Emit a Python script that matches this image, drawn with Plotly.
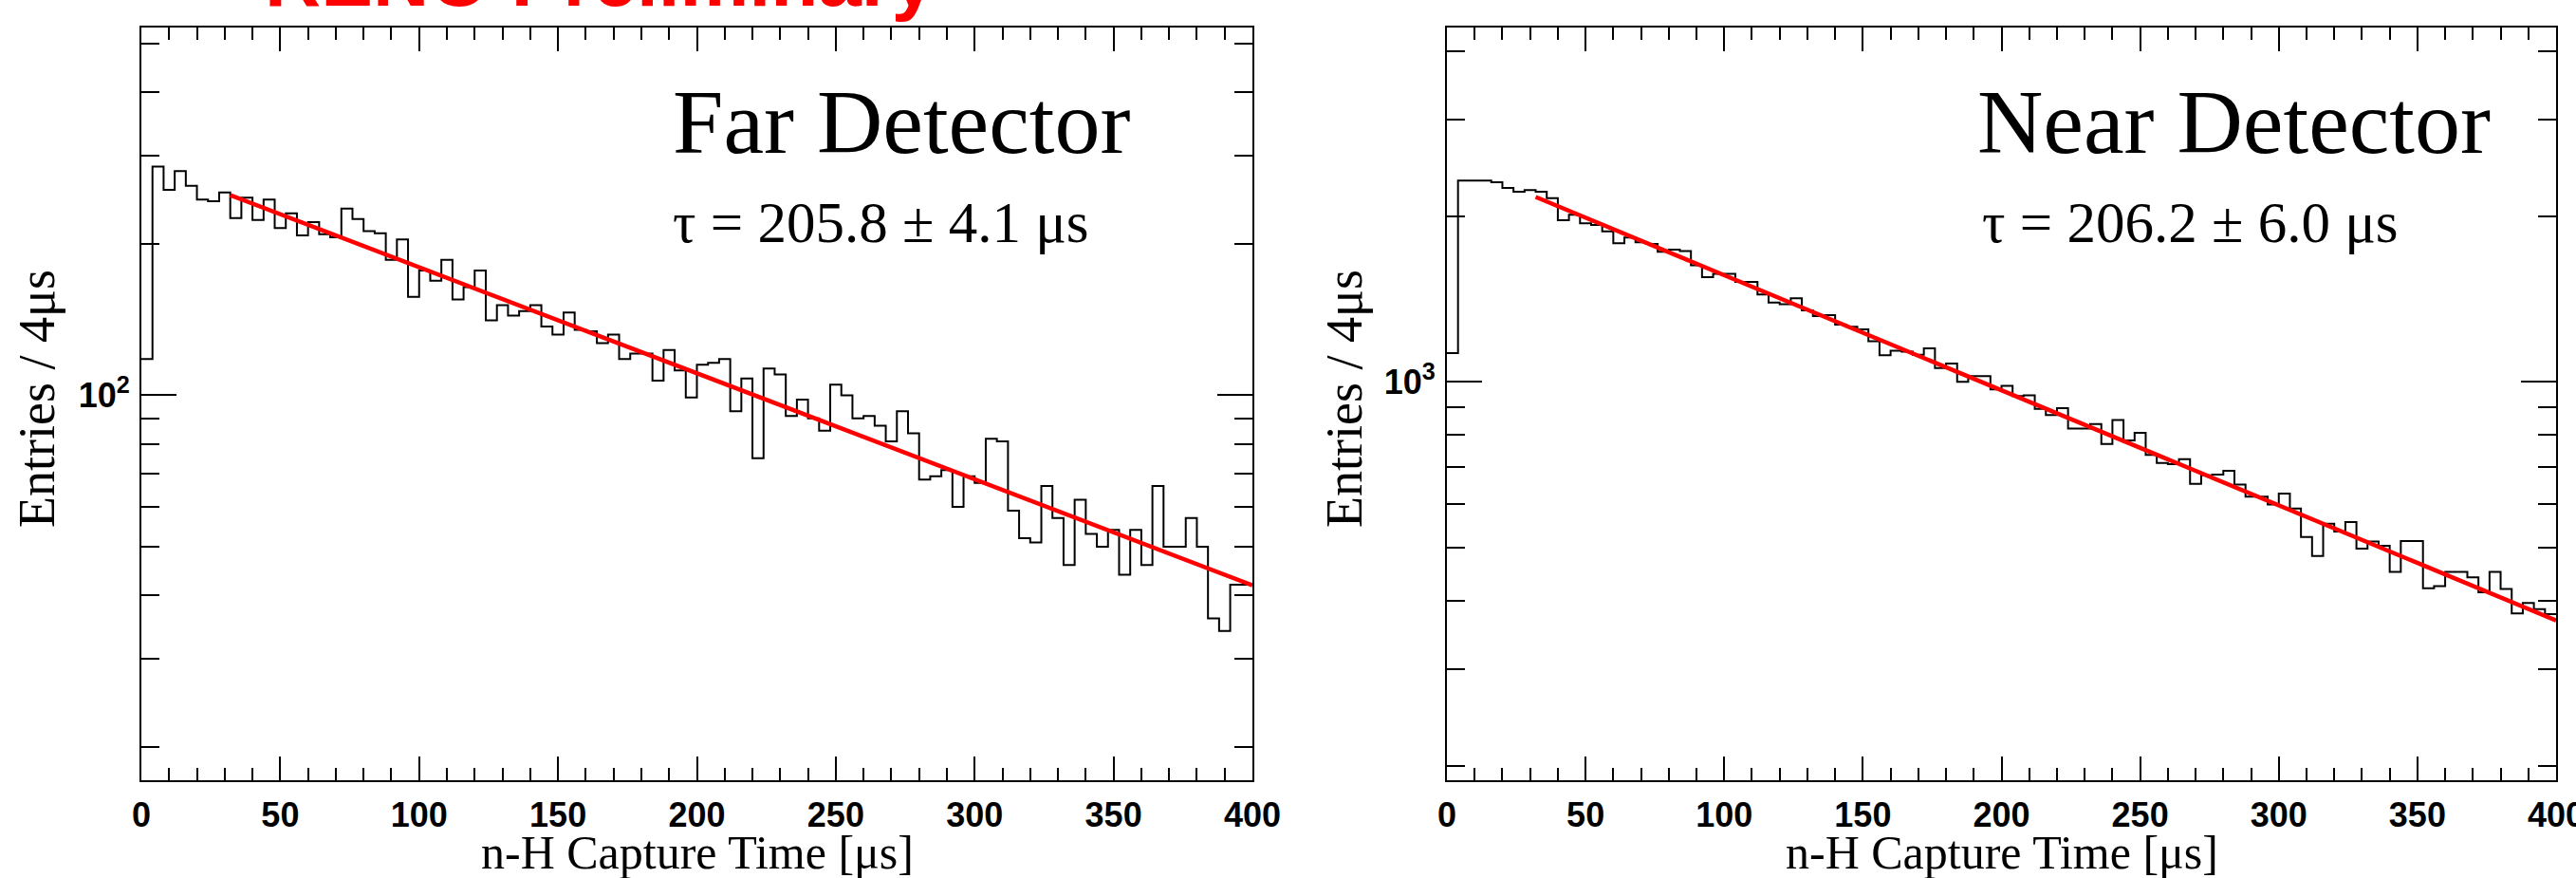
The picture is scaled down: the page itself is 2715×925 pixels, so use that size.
import math
import plotly.graph_objects as go

W, H = 2715, 925

# ---------------- data ----------------
bin_edges = [4 * i for i in range(101)]  # 4 us bins, 0..400 us

far_counts = [
    118, 285, 256, 279, 261, 245, 243, 253, 225, 247,
    223, 245, 215, 230, 208, 221, 209, 206, 235, 224,
    212, 210, 186, 204, 157, 177, 169, 186, 155, 164,
    177, 141, 151, 144, 147, 151, 137, 132, 146, 135,
    134, 127, 132, 118, 121, 121, 107, 123, 112, 99,
    115, 116, 118, 93, 108, 75, 113, 110, 91, 98,
    90, 85, 105, 100, 90, 91, 87, 81, 93, 84,
    68, 69, 71, 60, 69, 67, 82, 81, 59, 52,
    51, 66, 57, 46, 62, 53, 50, 54, 44, 54,
    46, 66, 50, 50, 57, 50, 36, 34, 42, 42,
]

near_counts = [
    1128, 2323, 2323, 2323, 2308, 2254, 2218, 2233, 2218, 2160,
    1969, 2014, 1943, 1930, 1879, 1787, 1830, 1795, 1782, 1724,
    1740, 1730, 1629, 1551, 1572, 1572, 1520, 1520, 1442, 1394,
    1385, 1419, 1349, 1317, 1322, 1271, 1260, 1246, 1185, 1118,
    1139, 1135, 1120, 1151, 1060, 1080, 1000, 1024, 1024, 969,
    983, 942, 945, 893, 870, 896, 822, 822, 838, 771,
    852, 782, 808, 736, 712, 708, 723, 652, 676, 678,
    689, 650, 618, 618, 598, 626, 588, 522, 482, 552,
    534, 556, 497, 512, 503, 451, 513, 513, 421, 425,
    451, 451, 441, 414, 451, 420, 379, 396, 386, 378,
]

fit_t = [32, 400]
far_fit = [250, 41.9]
near_fit = [2170, 368]

far_label = "Far Detector"
near_label = "Near Detector"
far_tau = "τ = 205.8 ± 4.1 μs"
near_tau = "τ = 206.2 ± 6.0 μs"
x_title = "n-H Capture Time [μs]"
y_title = "Entries / 4μs"
prelim = "RENO Preliminary"

far_yrange = [17.17, 538.4]
near_yrange = [188.4, 4413.0]
far_major = [100]
far_major_text = ["10<sup>2</sup>"]
near_major = [1000]
near_major_text = ["10<sup>3</sup>"]
far_minor = [20, 30, 40, 50, 60, 70, 80, 90, 200, 300, 400, 500]
near_minor = [200, 300, 400, 500, 600, 700, 800, 900, 2000, 3000, 4000]

# ---------------- helpers ----------------
def px(x):
    return x / W


def py(y):
    return 1 - y / H


TICKFONT = dict(family="Liberation Sans", size=36, color="black", weight="bold")
SERIF = "Liberation Serif"

fig = go.Figure()

for counts, fit, xa, ya in [(far_counts, far_fit, "x", "y"), (near_counts, near_fit, "x2", "y2")]:
    fig.add_trace(go.Scatter(
        x=bin_edges, y=counts + [counts[-1]], mode="lines",
        line=dict(shape="hv", color="black", width=2),
        xaxis=xa, yaxis=ya, showlegend=False, hoverinfo="skip"))
    fig.add_trace(go.Scatter(
        x=fit_t, y=fit, mode="lines",
        line=dict(color="#ff0000", width=4.5),
        xaxis=xa, yaxis=ya, showlegend=False, hoverinfo="skip"))


def xaxis(domain, anchor):
    return dict(
        domain=domain, anchor=anchor, automargin=False,
        range=[0, 400], tickmode="linear", tick0=0, dtick=50,
        ticks="inside", ticklen=25, tickwidth=2, tickcolor="black",
        showline=True, linecolor="black", linewidth=2, mirror="ticks",
        showgrid=False, zeroline=False, tickfont=TICKFONT, ticklabelstandoff=4,
        ticklabeloverflow="allow",
        minor=dict(ticks="inside", ticklen=13, tickwidth=2, tickcolor="black",
                   tick0=0, dtick=10, showgrid=False),
    )


def yaxis(rng, major, major_text, minor, anchor):
    return dict(
        domain=[py(822), py(29)], type="log", automargin=False,
        range=[math.log10(rng[0]), math.log10(rng[1])],
        tickmode="array", tickvals=major, ticktext=major_text,
        ticks="inside", ticklen=37, tickwidth=2, tickcolor="black",
        showline=True, linecolor="black", linewidth=2, mirror="ticks",
        showgrid=False, zeroline=False, tickfont=TICKFONT, ticklabelstandoff=3,
        ticklabeloverflow="allow", anchor=anchor,
        minor=dict(tickmode="array", tickvals=minor, ticks="inside", ticklen=19,
                   tickwidth=2, tickcolor="black", showgrid=False),
    )


fig.update_layout(
    width=W, height=H,
    margin=dict(l=0, r=0, t=0, b=0, autoexpand=False),
    paper_bgcolor="white", plot_bgcolor="white",
    showlegend=False,
    xaxis=xaxis([px(149), px(1320)], "y"),
    yaxis=yaxis(far_yrange, far_major, far_major_text, far_minor, "x"),
    xaxis2=xaxis([px(1525), px(2694)], "y2"),
    yaxis2=yaxis(near_yrange, near_major, near_major_text, near_minor, "x2"),
)

ann = []
for cx, ycx, lab, tau, lx, tx in [
    (734.5, 39, far_label, far_tau, 707, 707),
    (2109.5, 1417, near_label, near_tau, 2082, 2087),
]:
    ann.append(dict(x=px(cx), y=py(898), xref="paper", yref="paper", text=x_title,
                    showarrow=False, xanchor="center", yanchor="middle",
                    font=dict(family=SERIF, size=50, color="black")))
    ann.append(dict(x=px(ycx), y=py(420), xref="paper", yref="paper", text=y_title,
                    showarrow=False, xanchor="center", yanchor="middle", textangle=-90,
                    font=dict(family=SERIF, size=54, color="black")))
    ann.append(dict(x=px(lx), y=py(128), xref="paper", yref="paper", text=lab,
                    showarrow=False, xanchor="left", yanchor="middle",
                    font=dict(family=SERIF, size=96, color="black")))
    ann.append(dict(x=px(tx), y=py(234), xref="paper", yref="paper", text=tau,
                    showarrow=False, xanchor="left", yanchor="middle",
                    font=dict(family=SERIF, size=61, color="black")))

ann.append(dict(x=px(277), y=py(-23), xref="paper", yref="paper", text=prelim,
                showarrow=False, xanchor="left", yanchor="middle",
                font=dict(family="Liberation Sans", size=82, color="#ff0000", weight="bold")))

fig.update_layout(annotations=ann)

fig.write_html(
    "out.html",
    config={"displayModeBar": False},
    post_script="document.body.style.margin='0';"
                "document.documentElement.style.overflow='hidden';"
                "document.body.style.overflow='hidden';",
)
